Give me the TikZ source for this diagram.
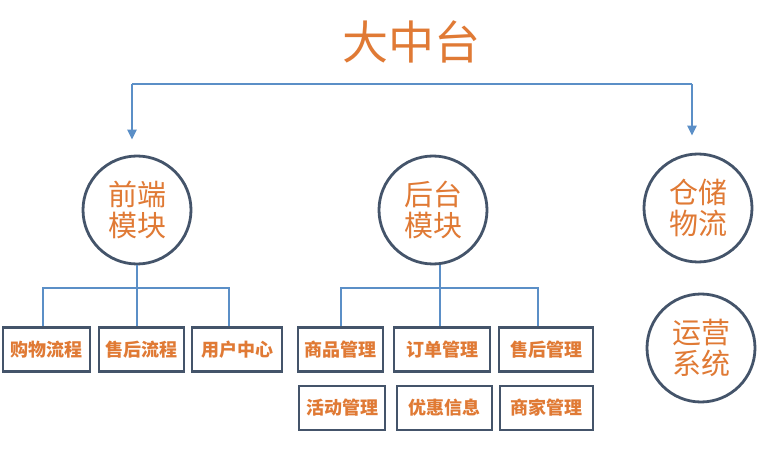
\documentclass[tikz,border=0pt]{standalone}
\usepackage{fontspec}
\newfontfamily\cjk{Noto Sans CJK SC}
\usetikzlibrary{arrows.meta}
\definecolor{conn}{HTML}{5B8FC7}
\definecolor{edgec}{HTML}{44546A}
\definecolor{txt}{HTML}{E07A35}
\begin{document}
\begin{tikzpicture}[x=1pt,y=-1pt,
  circ/.style={circle, draw=edgec, line width=2.8pt, minimum size=108pt, inner sep=0pt,
    font=\cjk\fontsize{29}{31}\selectfont, text=txt, align=center},
  box/.style={rectangle, draw=edgec, line width=2.8pt, inner sep=0pt, minimum height=44pt,
    font=\cjk\bfseries\fontsize{18}{20}\selectfont, text=txt},
  link/.style={draw=conn, line width=2.8pt},
  tip/.style={link, -{Triangle[width=9pt,length=10pt]}},
]
\fill[white] (0,0) rectangle (776,454);
\useasboundingbox (0,0) rectangle (776,454);

\node[text=txt, font=\cjk\fontsize{46}{46}\selectfont] (title) at (411,42) {大中台};

\node[circ] (fe) at (137,210) {前端\\模块};
\node[circ] (be) at (433,210) {后台\\模块};
\node[circ] (wl) at (698,208) {仓储\\物流};
\node[circ] (op) at (701,348) {运营\\系统};

\node[box, minimum width=87pt] (b1) at (46.5,349.5) {购物流程};
\node[box, minimum width=85pt] (b2) at (141.5,349.5) {售后流程};
\node[box, minimum width=90pt] (b3) at (237,349.5) {用户中心};

\node[box, minimum width=85pt] (c1) at (340.5,349.5) {商品管理};
\node[box, minimum width=96pt] (c2) at (442,349.5) {订单管理};
\node[box, minimum width=94pt] (c3) at (546,349.5) {售后管理};
\node[box, minimum width=86pt] (d1) at (342,408) {活动管理};
\node[box, minimum width=95pt] (d2) at (444.5,408) {优惠信息};
\node[box, minimum width=93pt] (d3) at (546.5,408) {商家管理};

% top connector
\coordinate (top) at (411,84);
\coordinate (tl) at ([xshift=-5pt,yshift=15pt]fe.north);
\coordinate (tr) at ([xshift=-6pt,yshift=17pt]wl.north);
\draw[link] (tl |- top) -- (tr |- top);
\draw[tip] (tl |- top) -- (tl);
\draw[tip] (tr |- top) -- (tr);

% front-end tree
\coordinate (fj) at (137,288);
\coordinate (f1) at ([xshift=-3.5pt]b1.north);
\coordinate (f3) at ([xshift=-8pt]b3.north);
\draw[link] (fe.south) -- ([xshift=-4.5pt]b2.north);
\draw[link] (f1) -- (f1 |- fj) -- (f3 |- fj) -- (f3);

% back-end tree
\coordinate (bj) at (440,288);
\coordinate (g1) at ([xshift=0.5pt]c1.north);
\coordinate (g3) at ([xshift=-8pt]c3.north);
\draw[link] (bj |- be.south) -- (bj |- c2.north);
\draw[link] (g1) -- (g1 |- bj) -- (g3 |- bj) -- (g3);
\end{tikzpicture}
\end{document}
